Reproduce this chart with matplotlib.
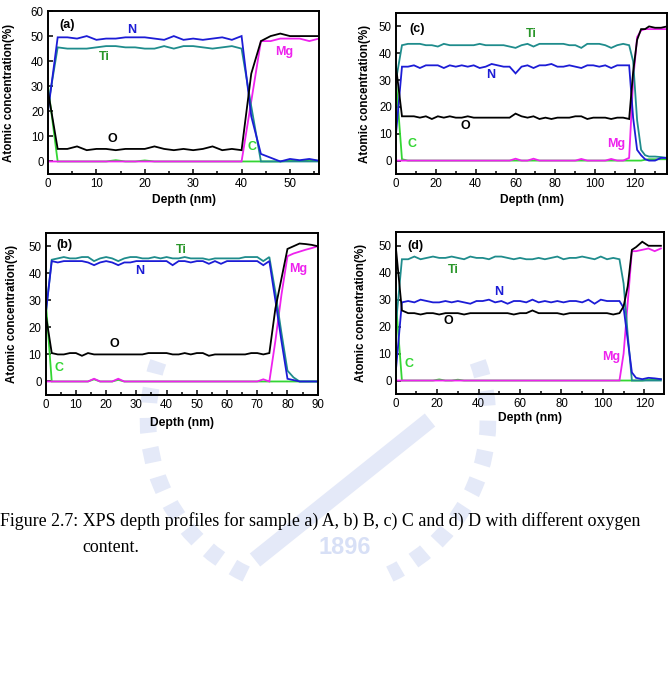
import matplotlib
matplotlib.use("Agg")
import matplotlib.pyplot as plt
from matplotlib.ticker import MultipleLocator
from matplotlib.patches import Arc

plt.rcParams['font.family'] = ['Liberation Sans', 'DejaVu Sans']

# ---------------- data ----------------
# panel (a)
depth_a = [0, 2, 4, 6, 8, 10, 12, 14, 16, 18, 20, 22, 24, 26, 28, 30, 32, 34, 36, 38,
           40, 42, 44, 46, 48, 50, 52, 54, 56]
N_a = [20, 49.5, 49.5, 49, 50, 48.5, 49, 49, 49.5, 49.5, 49.5, 49, 48.5, 50, 48.5, 49, 48.5,
       49, 49.5, 48.5, 50, 18, 3, 1.5, 0, 1, 0.5, 1, 0.3]
Ti_a = [22, 45.5, 45, 45, 45, 45.5, 46, 46, 45.5, 45.5, 45, 45, 46, 45, 46, 46, 45.5, 45,
        45.5, 46, 45, 22, 0, 0, 0, 0, 0, 0, 0]
O_a = [28, 5, 5, 6, 4.5, 5, 5, 4.5, 5, 5, 5, 6, 5, 4.5, 5, 4.5, 5, 6, 4.5, 5, 4.5, 35, 48,
       50, 51, 50, 50, 50, 50]
Mg_a = [0, 0, 0, 0, 0, 0, 0, 0, 0, 0, 0, 0, 0, 0, 0, 0, 0, 0, 0, 0, 0, 24, 48, 48, 49, 49,
        49, 48, 49]
C_a = [30, 0, 0, 0, 0, 0, 0, 0.5, 0, 0, 0.4, 0, 0, 0, 0, 0, 0, 0, 0, 0, 0, 0, 0, 0, 0, 0.3,
       0.2, 0.6, 0.2]

# panel (b)
depth_b = [0, 2, 4, 6, 8, 10, 12, 14, 16, 18, 20, 22, 24, 26, 28, 30, 32, 34, 36, 38, 40, 42,
           44, 46, 48, 50, 52, 54, 56, 58, 60, 62, 64, 66, 68, 70, 72, 74, 76, 78, 80, 82, 84,
           86, 88, 90]
Ti_b = [25, 45, 45.5, 46, 45.5, 45.5, 46, 46, 44.5, 45.5, 46, 45.5, 44.5, 45.5, 46, 46, 45.5,
        45.5, 46, 45.5, 46, 45.5, 45.5, 46, 45.5, 45.5, 45.5, 45, 45.5, 45.5, 45.5, 45.5, 45.5,
        46, 46, 46, 44.5, 46, 33, 18, 4, 1.5, 0, 0, 0, 0]
N_b = [25, 44.5, 44, 44.5, 44.5, 44.5, 44.5, 44, 43, 44, 44.5, 44, 43, 44, 44, 44.5, 44.5,
       44.5, 44.5, 44.5, 44.5, 43, 44.5, 44.5, 44, 44.5, 44.5, 43.5, 44.5, 43.5, 44.5, 44.5,
       44.5, 44.5, 44.5, 44.5, 43, 44.5, 30, 15, 1, 0.5, 0, 0, 0, 0]
O_b = [25, 10.5, 10, 10, 10.5, 10.5, 9.5, 10.5, 10, 10, 10, 10, 10, 10, 10, 10, 10, 10.5,
       10.5, 10.5, 10.5, 10, 10, 10.5, 10, 10.5, 10.5, 9.5, 10, 10, 10, 10, 10, 10, 10.5,
       10.5, 10, 10.5, 27, 38, 49, 50, 51, 50.8, 50.5, 50]
Mg_b = [0, 0, 0, 0, 0, 0, 0, 0, 1, 0, 0, 0, 1, 0, 0, 0, 0, 0, 0, 0, 0, 0, 0, 0, 0, 0, 0, 0,
        0, 0, 0, 0, 0, 0, 0, 0, 0.8, 0, 15, 32, 46.3, 47.3, 48, 48.7, 49.3, 50]
C_b = [30, 0, 0, 0, 0, 0, 0, 0, 0.8, 0, 0, 0, 0.6, 0, 0, 0, 0, 0, 0, 0, 0, 0, 0, 0, 0, 0, 0,
       0, 0, 0, 0, 0, 0, 0, 0, 0, 0, 0, 0, 0, 0, 0, 0, 0, 0, 0]

# panel (c)
depth_c = [0, 3, 6, 9, 12, 15, 18, 21, 24, 27, 30, 33, 36, 39, 42, 45, 48, 51, 54, 57, 60,
           63, 66, 69, 72, 75, 78, 81, 84, 87, 90, 93, 96, 99, 102, 105, 108, 111, 114, 117,
           119, 121, 123, 125, 127, 130, 133, 136]
Ti_c = [30, 43, 43.5, 43.5, 43.5, 43, 43, 42.5, 43.5, 43, 43, 43, 43, 43, 43.5, 43, 43, 43,
        43, 42.5, 42, 43, 43.5, 42.5, 43.5, 43.5, 43.5, 43.5, 43.5, 43, 43, 42, 43.5, 43.5,
        43.5, 43, 42, 43, 43.5, 43, 37, 15, 4, 2, 1.5, 1.5, 1.3, 1]
N_c = [10, 35, 35, 35.5, 34.5, 35.5, 35.5, 35.5, 34.5, 35.5, 35, 35.5, 35, 35.5, 34.5, 35,
       36, 35.5, 35, 35, 32.5, 35, 35.5, 34.5, 35.5, 35.5, 36, 35, 35, 35.5, 35, 34.5, 35.5,
       35.5, 35, 35.5, 34.5, 35.5, 35.5, 35.5, 16, 4, 2, 0.5, 0, 0, 1, 1]
O_c = [35, 16.5, 16.5, 16.5, 16, 16.5, 15.5, 16.5, 16, 16.5, 16, 16, 16.5, 16, 16, 16, 16,
       16, 16, 16, 17.5, 16.5, 16, 16.5, 15.5, 16, 15.5, 16, 16, 16, 16.5, 16.5, 15.5, 16, 16,
       16, 15.5, 16, 16, 15.5, 33, 45, 49, 49, 50, 49.5, 49.5, 50]
Mg_c = [0, 0, 0, 0, 0, 0, 0, 0, 0, 0, 0, 0, 0, 0, 0, 0, 0, 0, 0, 0, 0.7, 0, 0, 0.7, 0, 0, 0,
        0, 0, 0, 0, 0.6, 0, 0, 0, 0, 0.6, 0, 0, 1, 30, 46, 48.5, 49, 49, 49, 49, 49]
C_c = [30, 0.5, 0, 0, 0, 0, 0, 0, 0, 0, 0, 0, 0, 0, 0, 0, 0, 0, 0, 0, 0, 0, 0, 0, 0, 0, 0, 0,
       0, 0, 0, 0, 0, 0, 0, 0, 0, 0, 0, 0, 0, 0, 0, 0.3, 0.5, 0.5, 0.5, 0.5]

# panel (d)
depth_d = [0, 3, 6, 9, 12, 15, 18, 21, 24, 27, 30, 33, 36, 39, 42, 45, 48, 51, 54, 57, 60,
           63, 66, 69, 72, 75, 78, 81, 84, 87, 90, 93, 96, 99, 102, 105, 108, 110, 112, 114,
           116, 119, 122, 125, 128]
Ti_d = [20, 45, 45, 46, 45, 45.5, 46, 45.5, 45.5, 46, 45.5, 45, 46, 45.5, 45.5, 45, 46, 46,
        45.5, 45, 45.5, 45, 45, 45.5, 45, 45.5, 46, 45, 45.5, 45.5, 46, 45.5, 45, 46, 45, 45.5,
        45, 36, 17, 0, 0, 0, 0, 0, 0]
N_d = [3, 29, 29.5, 29, 30, 29.5, 29, 29, 29.5, 29, 29.5, 29, 28.5, 29.5, 29.5, 30, 29, 29.5,
       28.5, 29.5, 29.5, 29, 30, 29, 29.5, 29, 29.5, 29, 29.5, 29.5, 29, 30, 28.5, 30, 29.5,
       29.5, 29.5, 27, 15, 3, 1, 0.5, 1, 0.8, 0.5]
O_d = [50, 26, 25, 25, 24.5, 25, 25, 24.5, 25, 25, 25, 24.5, 25, 25, 25, 25, 25, 25, 25, 24.5,
       25, 25, 26, 25, 25, 25, 25, 24.5, 25, 25, 25, 25, 25, 25, 25, 24.5, 25, 27.5, 35, 48.5,
       49.5, 51.5, 50, 50, 50]
Mg_d = [0, 0, 0, 0, 0, 0, 0, 0, 0, 0, 0, 0, 0, 0, 0, 0, 0, 0, 0, 0, 0, 0, 0, 0, 0, 0, 0, 0,
        0, 0, 0, 0, 0, 0, 0, 0, 0, 10, 29, 48, 48, 48.5, 49, 48, 49]
C_d = [30, 0, 0, 0, 0, 0, 0, 0.4, 0, 0, 0.3, 0, 0, 0, 0, 0, 0, 0, 0, 0, 0, 0, 0, 0, 0, 0, 0,
       0, 0, 0, 0, 0, 0, 0, 0, 0, 0, 0, 0, 0, 0, 0, 0.3, 0.3, 0.5]

panel_tags = ["(a)", "(b)", "(c)", "(d)"]
caption_line1 = "Figure 2.7: XPS depth profiles for sample a) A, b) B, c) C and d) D with different oxygen"
caption_line2 = "content."

# ---------------- style ----------------
COL = {"N": "#1c1cd6", "Ti": "#1f8c8c", "O": "#000000", "Mg": "#ee22ee", "C": "#33d633"}
LBLCOL = {"N": "#1c1cd6", "Ti": "#2a962a", "O": "#000000", "Mg": "#ee22ee", "C": "#33d633"}

W, H = 669, 693
fig = plt.figure(figsize=(W / 100, H / 100), dpi=100)

# faint watermark (background)
bg = fig.add_axes([0, 0, 1, 1], zorder=0)
bg.set_xlim(0, W)
bg.set_ylim(H, 0)
bg.axis("off")
wm = "#e4e9f8"
bg.add_patch(Arc((318, 420), 340, 340, theta1=115, theta2=200, lw=12, color=wm,
                 linestyle=(0, (0.9, 0.9)), zorder=0))
bg.add_patch(Arc((318, 420), 340, 340, theta1=-20, theta2=65, lw=12, color=wm,
                 linestyle=(0, (0.9, 0.9)), zorder=0))
bg.plot([255, 430], [560, 420], color=wm, lw=12, solid_capstyle="butt", zorder=0)
bg.text(345, 548, "1896", color="#d8e0f6", fontsize=17, fontweight="bold",
        ha="center", va="center", zorder=0)

# (left, right, top, bottom) in pixels, ylabel offset, xlabel offset
layout = [
    ((48, 319, 11, 174), 32.5, 20.5),
    ((45.7, 317.7, 232.7, 395), 27.5, 22),
    ((396, 667, 13, 174), 25.5, 20.5),
    ((395.7, 664, 232.3, 394), 28.5, 18.5),
]


def add_axes_px(l, r, t, b):
    return fig.add_axes([l / W, 1 - b / H, (r - l) / W, (b - t) / H], zorder=2)


panels = [
    dict(depth=depth_a, N=N_a, Ti=Ti_a, O=O_a, Mg=Mg_a, C=C_a,
         xlim=(0, 56), ylim=(-5, 60), xmaj=10, xmin=5, yticks=range(0, 61, 10),
         tag=panel_tags[0], tagpos=(2.3, 54.5),
         lab={"N": (17.3, 52.5), "Ti": (11.6, 41.8), "O": (13.2, 9), "C": (42.2, 5.7),
              "Mg": (48.8, 43.5)}),
    dict(depth=depth_b, N=N_b, Ti=Ti_b, O=O_b, Mg=Mg_b, C=C_b,
         xlim=(0, 90), ylim=(-5, 55), xmaj=10, xmin=5, yticks=range(0, 51, 10),
         tag=panel_tags[1], tagpos=(3.6, 50.6),
         lab={"N": (31.2, 41), "Ti": (44.8, 48.5), "O": (22.7, 13.7), "C": (4.5, 4.8),
              "Mg": (83.4, 41.6)}),
    dict(depth=depth_c, N=N_c, Ti=Ti_c, O=O_c, Mg=Mg_c, C=C_c,
         xlim=(0, 136), ylim=(-5, 55), xmaj=20, xmin=10, yticks=range(0, 51, 10),
         tag=panel_tags[2], tagpos=(6.7, 49),
         lab={"N": (47.7, 31.8), "Ti": (67.8, 47.3), "O": (34.7, 12.8), "C": (7.9, 6.3),
              "Mg": (110.4, 6)}),
    dict(depth=depth_d, N=N_d, Ti=Ti_d, O=O_d, Mg=Mg_d, C=C_d,
         xlim=(0, 129.5), ylim=(-5, 55), xmaj=20, xmin=10, yticks=range(0, 51, 10),
         tag=panel_tags[3], tagpos=(5.8, 50.1),
         lab={"N": (49.5, 33), "Ti": (27.8, 41.1), "O": (25.4, 22.2), "C": (6.3, 6.2),
              "Mg": (103.9, 8.7)}),
]

for p, (box, yoff, xoff) in zip(panels, layout):
    ax = add_axes_px(*box)
    wpx = box[1] - box[0]
    hpx = box[3] - box[2]
    ax.patch.set_alpha(0)
    for el in ["C", "Mg", "Ti", "N", "O"]:
        ax.plot(p["depth"], p[el], color=COL[el], lw=1.3, solid_joinstyle="miter")
    ax.set_xlim(*p["xlim"])
    ax.set_ylim(*p["ylim"])
    ax.set_yticks(list(p["yticks"]))
    ax.xaxis.set_major_locator(MultipleLocator(p["xmaj"]))
    ax.xaxis.set_minor_locator(MultipleLocator(p["xmin"]))
    ax.tick_params(which="both", direction="in", top=False, right=False,
                   labelsize=8.3, width=1.1, pad=3)
    ax.tick_params(which="major", length=3.5)
    ax.tick_params(which="minor", length=2.5)
    for s in ax.spines.values():
        s.set_linewidth(1.4)
    ax.set_xlabel("Depth (nm)", fontsize=8.7, fontweight="bold")
    ax.set_ylabel("Atomic concentration(%)", fontsize=8.4, fontweight="bold")
    ax.yaxis.set_label_coords(-yoff / wpx, 0.5)
    ax.xaxis.set_label_coords(0.5, -xoff / hpx)
    ax.text(p["tagpos"][0], p["tagpos"][1], p["tag"], fontsize=9, fontweight="bold",
            ha="left", va="center")
    for el, (x, y) in p["lab"].items():
        ax.text(x, y, el, color=LBLCOL[el], fontsize=9, fontweight="bold",
                ha="center", va="center")

fig.text(0.5 / W, 1 - 521 / H, caption_line1, family="Liberation Serif", fontsize=12.9,
         ha="left", va="center")
fig.text(82 / W, 1 - 547 / H, caption_line2, family="Liberation Serif", fontsize=12.9,
         ha="left", va="center")

fig.savefig("out.png", dpi=100)
